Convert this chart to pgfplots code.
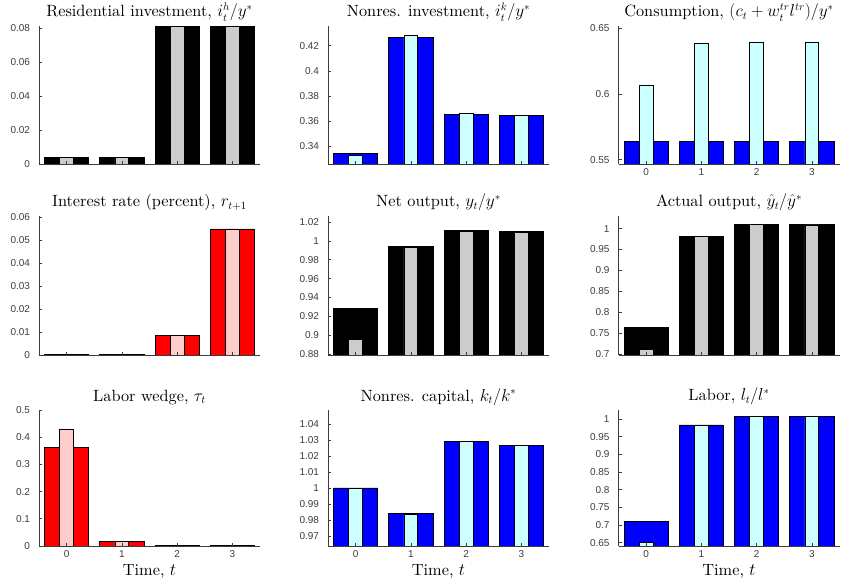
\documentclass[border=0pt]{standalone}
\usepackage{fontspec}
\usepackage{pgfplots}
\pgfplotsset{compat=1.18}
\newfontfamily\arialf{Liberation Sans}
\newfontfamily\ttlf{lmroman10-regular.otf}
\definecolor{axgray}{RGB}{60,60,60}
\definecolor{lgray}{RGB}{204,204,204}
\definecolor{lcyan}{RGB}{204,255,255}
\definecolor{lpink}{RGB}{255,204,204}
\definecolor{mblue}{RGB}{0,0,255}
\definecolor{mred}{RGB}{255,0,0}
\pgfplotsset{
  panel/.style={
    scale only axis, width=221pt,
    xmin=-0.5, xmax=3.5,
    xtick={0,1,2,3}, xticklabels={},
    scaled y ticks=false, scaled x ticks=false,
    axis lines*=left,
    axis line style={-, draw=axgray, line width=0.9pt},
    tick align=inside, major tick length=3pt,
    tick style={draw=axgray, line width=0.6pt},
    ticklabel style={font=\arialf\fontsize{10}{12}\selectfont, text=axgray},
    yticklabel style={xshift=-5.5pt},
    xticklabel style={anchor=base, yshift=-12pt},
    axis on top,
    title style={font=\ttlf\fontsize{16.3}{19}\selectfont, at={(0.5,1)}, anchor=base, yshift=3pt},
    xlabel style={font=\ttlf\fontsize{16.3}{19}\selectfont, at={(axis description cs:0.5,0)}, anchor=base, yshift=-30pt},
  },
  wide/.style={ybar, bar width=0.8, bar shift=0pt, draw=black, line width=0.7pt, fill=#1},
  narrow/.style={ybar, bar width=0.25, bar shift=0pt, draw=black, line width=0.7pt, fill=#1},
}
\begin{document}
\begin{tikzpicture}
\path[use as bounding box] (0,0) rectangle (847pt,586pt);

% Row 1
\begin{axis}[panel, at={(39pt,422pt)}, anchor=south west, height=138pt,
  ymin=0, ymax=0.0812, ytick={0,0.02,0.04,0.06,0.08}, yticklabels={0,0.02,0.04,0.06,0.08},
  title={Residential investment, $i^h_t/y^*$}]
\addplot[wide=black] coordinates {(0,0.0037) (1,0.0037) (2,0.0809) (3,0.0809)};
\addplot[narrow=lgray] coordinates {(0,0.0037) (1,0.0037) (2,0.0809) (3,0.0809)};
\end{axis}

\begin{axis}[panel, at={(328pt,422pt)}, anchor=south west, height=138pt,
  ymin=0.3258, ymax=0.4357, ytick={0.34,0.36,0.38,0.40,0.42}, yticklabels={0.34,0.36,0.38,0.4,0.42},
  title={Nonres. investment, $i^k_t/y^*$}]
\addplot[wide=mblue] coordinates {(0,0.3344) (1,0.4264) (2,0.3656) (3,0.3648)};
\addplot[narrow=lcyan] coordinates {(0,0.3328) (1,0.4280) (2,0.3659) (3,0.3648)};
\end{axis}

\begin{axis}[panel, at={(618.5pt,422pt)}, anchor=south west, height=138pt,
  ymin=0.5467, ymax=0.6515, ytick={0.55,0.6,0.65}, yticklabels={0.55,0.6,0.65},
  xticklabels={0,1,2,3},
  title={Consumption, $(c_t+w^{tr}_t l^{tr})/y^*$}]
\addplot[wide=mblue] coordinates {(0,0.5640) (1,0.5640) (2,0.5637) (3,0.5637)};
\addplot[narrow=lcyan] coordinates {(0,0.6068) (1,0.6380) (2,0.6388) (3,0.6388)};
\end{axis}

% Row 2
\begin{axis}[panel, at={(39pt,231pt)}, anchor=south west, height=139pt,
  ymin=0, ymax=0.0604, ytick={0,0.01,0.02,0.03,0.04,0.05,0.06}, yticklabels={0,0.01,0.02,0.03,0.04,0.05,0.06},
  title={Interest rate (percent), $r_{t+1}$}]
\addplot[wide=mred] coordinates {(0,0.0002) (1,0.0002) (2,0.0084) (3,0.0548)};
\addplot[narrow=lpink] coordinates {(0,0.0002) (1,0.0002) (2,0.0084) (3,0.0548)};
\end{axis}

\begin{axis}[panel, at={(328pt,231pt)}, anchor=south west, height=139pt,
  ymin=0.8792, ymax=1.0263, ytick={0.88,0.90,0.92,0.94,0.96,0.98,1.00,1.02}, yticklabels={0.88,0.9,0.92,0.94,0.96,0.98,1,1.02},
  title={Net output, $y_t/y^*$}]
\addplot[wide=black] coordinates {(0,0.9286) (1,0.9944) (2,1.0106) (3,1.0099)};
\addplot[narrow=lgray] coordinates {(0,0.8960) (1,0.9930) (2,1.0103) (3,1.0088)};
\end{axis}

\begin{axis}[panel, at={(618.5pt,231pt)}, anchor=south west, height=139pt,
  ymin=0.6983, ymax=1.030, ytick={0.7,0.75,0.8,0.85,0.9,0.95,1}, yticklabels={0.7,0.75,0.8,0.85,0.9,0.95,1},
  title={Actual output, $\hat{y}_t/\hat{y}^*$}]
\addplot[wide=black] coordinates {(0,0.7633) (1,0.9815) (2,1.0096) (3,1.0096)};
\addplot[narrow=lgray] coordinates {(0,0.7113) (1,0.9810) (2,1.0090) (3,1.0088)};
\end{axis}

% Row 3
\begin{axis}[panel, at={(39pt,40pt)}, anchor=south west, height=136pt,
  ymin=0, ymax=0.5, ytick={0,0.1,0.2,0.3,0.4,0.5}, yticklabels={0,0.1,0.2,0.3,0.4,0.5},
  xticklabels={0,1,2,3}, xlabel={Time, $t$},
  title={Labor wedge, $\tau_t$}]
\addplot[wide=mred] coordinates {(0,0.3629) (1,0.0180) (2,0.0008) (3,0.0008)};
\addplot[narrow=lpink] coordinates {(0,0.4278) (1,0.0180) (2,0.0008) (3,0.0008)};
\end{axis}

\begin{axis}[panel, at={(328pt,40pt)}, anchor=south west, height=136pt,
  ymin=0.9637, ymax=1.0488, ytick={0.97,0.98,0.99,1.00,1.01,1.02,1.03,1.04}, yticklabels={0.97,0.98,0.99,1,1.01,1.02,1.03,1.04},
  xticklabels={0,1,2,3}, xlabel={Time, $t$},
  title={Nonres. capital, $k_t/k^*$}]
\addplot[wide=mblue] coordinates {(0,1.0000) (1,0.9842) (2,1.0292) (3,1.0265)};
\addplot[narrow=lcyan] coordinates {(0,1.0000) (1,0.9834) (2,1.0292) (3,1.0265)};
\end{axis}

\begin{axis}[panel, at={(618.5pt,40pt)}, anchor=south west, height=136pt,
  ymin=0.6404, ymax=1.0254, ytick={0.65,0.7,0.75,0.8,0.85,0.9,0.95,1}, yticklabels={0.65,0.7,0.75,0.8,0.85,0.9,0.95,1},
  xticklabels={0,1,2,3}, xlabel={Time, $t$},
  title={Labor, $l_t/l^*$}]
\addplot[wide=mblue] coordinates {(0,0.7102) (1,0.9830) (2,1.0065) (3,1.0065)};
\addplot[narrow=lcyan] coordinates {(0,0.6517) (1,0.9830) (2,1.0065) (3,1.0065)};
\end{axis}
\end{tikzpicture}
\end{document}
